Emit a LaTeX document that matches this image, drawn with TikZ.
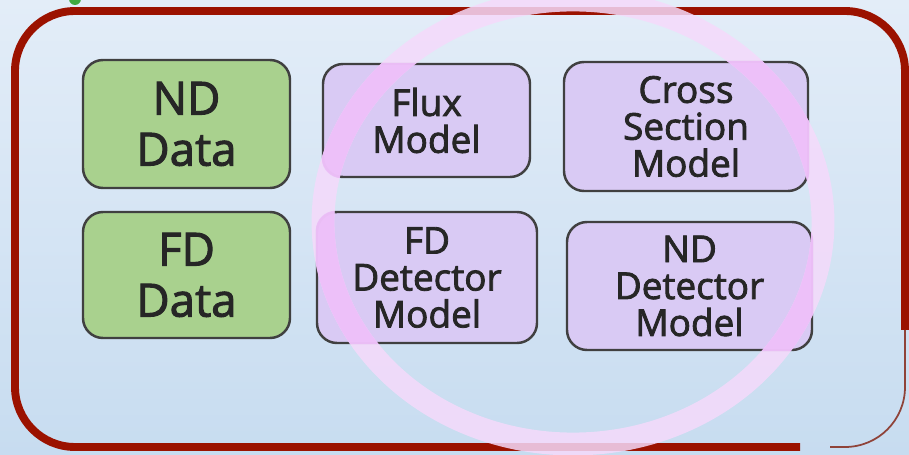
\documentclass[tikz,border=0pt]{standalone}
\usepackage{fontspec}
\setmainfont{Open Sans}
\newfontfamily\boxfont{Open Sans}[FakeBold=2.2]
\usepackage{xcolor}
\usetikzlibrary{positioning}

\definecolor{bgtop}{HTML}{E3EDF8}
\definecolor{bgbot}{HTML}{C7DCF0}
\definecolor{framered}{HTML}{9B1200}
\definecolor{datagreen}{HTML}{A9D18E}
\definecolor{modelviolet}{HTML}{D9CAF4}
\definecolor{edgegray}{HTML}{404040}
\definecolor{ringpale}{HTML}{F5DAFB}
\definecolor{ringpink}{HTML}{EDBDFA}

\begin{document}
\begin{tikzpicture}[
    databox/.style={rectangle, draw=edgegray, line width=1.4pt, rounded corners=0.4cm, fill=datagreen, minimum width=4.14cm, minimum height=2.56cm, align=center, text=black!85, font=\boxfont\fontsize{26}{29}\selectfont},
    modelbox/.style={rectangle, draw=edgegray, line width=1.4pt, rounded corners=0.4cm, fill=modelviolet, align=center, text=black!85, font=\boxfont\fontsize{21}{21}\selectfont},
    frame/.style={draw=framered, line width=4.5pt, rounded corners=1.2cm},
    ring/.style={line width=13pt, opacity=0.85}
]
    \useasboundingbox (0,0) rectangle (18.18,-9.1);
    \shade[top color=bgtop, bottom color=bgbot] (0,0) rectangle (18.18,-9.1);
    \fill[green!55!black!75] (1.5,0.02) circle (0.12);

    % outer frame, thinning out at the lower right
    \draw[frame] (16.0,-8.94) -- (0.3,-8.94) -- (0.3,-0.22) -- (18.1,-0.22) -- (18.1,-6.6);
    \draw[frame, line width=1pt, draw=framered!55!gray] (18.1,-6.6) -- (18.1,-8.94) -- (16.6,-8.94);

    \node[databox] (nddata) at (3.73,-2.48) {ND\\Data};
    \node[databox, minimum height=2.52cm] (fddata) at (3.73,-5.5) {FD\\Data};
    \node[modelbox, minimum width=4.14cm, minimum height=2.26cm] (flux) at (8.53,-2.41) {Flux\\Model};
    \node[modelbox, minimum width=4.88cm, minimum height=2.58cm] (xsec) at (13.72,-2.53) {Cross\\Section\\Model};
    \node[modelbox, minimum width=4.4cm, minimum height=2.62cm] (fddet) at (8.54,-5.55) {FD\\Detector\\Model};
    \node[modelbox, minimum width=4.9cm, minimum height=2.56cm] (nddet) at (13.79,-5.72) {ND\\Detector\\Model};

    % brush ring, pale over the background and stronger over the boxes
    \draw[ring, draw=ringpale] (11.46,-4.44) ellipse [x radius=5.0cm, y radius=4.44cm];
    \begin{scope}
        \clip[rounded corners=0.4cm]
            (flux.south west) rectangle (flux.north east)
            (xsec.south west) rectangle (xsec.north east)
            (fddet.south west) rectangle (fddet.north east)
            (nddet.south west) rectangle (nddet.north east);
        \draw[ring, draw=ringpink] (11.46,-4.44) ellipse [x radius=5.0cm, y radius=4.44cm];
    \end{scope}
\end{tikzpicture}
\end{document}
